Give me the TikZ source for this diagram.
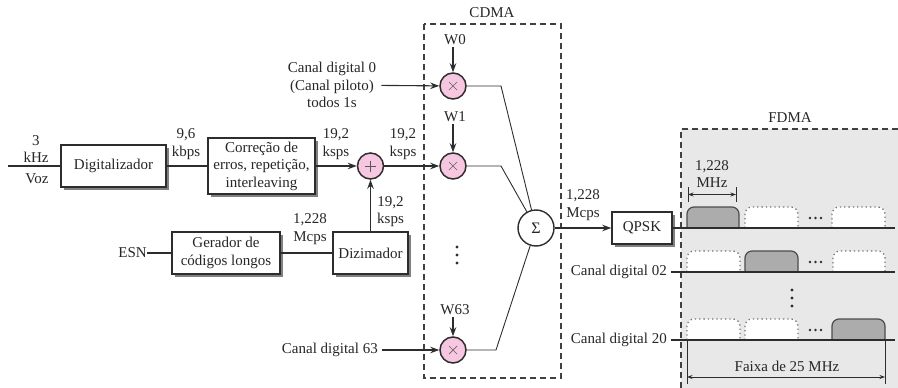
\documentclass[tikz,border=0pt]{standalone}
\usepackage{fontspec}
\setmainfont{Liberation Serif}
\usetikzlibrary{arrows.meta,shadows,calc}
\definecolor{pinkc}{RGB}{247,198,224}
\definecolor{linec}{RGB}{45,45,45}
\definecolor{fdmabg}{RGB}{232,232,232}
\definecolor{pulseg}{RGB}{172,172,172}
\newcommand{\mypulse}[4]{\path[#4, rounded corners=7pt] (#1,#3) -- (#1,#3-21) -- (#2,#3-21) -- (#2,#3);}
\begin{document}
\begin{tikzpicture}[x=1pt,y=-1pt,
  font=\fontsize{15}{17.5}\selectfont, text=black!85,
  blk/.style={draw=linec, line width=1.6pt, fill=white, align=center, inner sep=2pt,
    drop shadow={shadow xshift=3pt, shadow yshift=-3pt, fill=black!50, opacity=1}},
  mul/.style={circle, draw=linec, line width=1.5pt, fill=pinkc, minimum size=26pt, inner sep=0pt},
  sig/.style={circle, draw=linec, line width=1.4pt, fill=white, minimum size=36pt, inner sep=0pt},
  ln/.style={draw=linec, line width=1.1pt},
  arr/.style={ln, -{Stealth[length=9pt,width=6.5pt]}},
  dim/.style={draw=linec, line width=0.8pt, {Stealth[length=5.5pt,width=4pt]}-{Stealth[length=5.5pt,width=4pt]}},
  lbl/.style={align=center, inner sep=0pt},
  dashbox/.style={draw=black!75, line width=1.1pt, dash pattern=on 6pt off 4pt},
  gpulse/.style={fill=pulseg, draw=black!70, line width=1.2pt},
  dpulse/.style={fill=white, draw=black!55, line width=1.3pt, dash pattern=on 1.3pt off 3pt},
  dotc/.style={fill=linec}
]
\useasboundingbox (0,0) rectangle (898,388);

% FDMA region
\fill[fdmabg] (681,129) rectangle (898,388);
\path[dashbox] (681,388) -- (681,129) -- (898,129);
\node[lbl] (fdma) at (790,118) {FDMA};

% CDMA region
\path[dashbox] (424,24) rectangle (561,378);
\node[lbl] (cdma) at (492,13) {CDMA};

% blocks
\node[blk, minimum width=105pt, minimum height=42pt] (dig) at (113.5,166) {Digitalizador};
\node[blk, minimum width=107pt, minimum height=56pt] (cor) at (261.5,166) {Correção de\\erros, repetição,\\interleaving};
\node[blk, minimum width=108pt, minimum height=42pt] (ger) at (226,253) {Gerador de\\códigos longos};
\node[blk, minimum width=75pt, minimum height=42pt] (diz) at (370.5,253) {Dizimador};
\node[blk, minimum width=60pt, minimum height=32pt] (qpsk) at (642,228) {QPSK};

% circles
\node[mul] (plus) at (370.5,166) {};
\draw[linec!80, line width=0.8pt] ($(plus)+(-5.5,0)$) -- ($(plus)+(5.5,0)$) ($(plus)+(0,-5.5)$) -- ($(plus)+(0,5.5)$);
\foreach \n/\yy in {m0/86, m1/166, m63/350}{
  \node[mul] (\n) at (453,\yy) {};
  \draw[linec!75, line width=0.7pt] ($(\n)+(-4,-4)$) -- ($(\n)+(4,4)$) ($(\n)+(-4,4)$) -- ($(\n)+(4,-4)$);
}
\node[sig, font=\fontsize{16}{18}\selectfont] (sig) at (536,228) {Σ};

% input chain
\node[lbl] (khz) at (36,149) {3\\kHz};
\node[lbl] (voz) at (37,179) {Voz};
\coordinate (vin) at (8,166);
\draw[ln] (vin) -- (dig);
\draw[ln] (dig) -- (cor);
\node[lbl] (r96) at (186,144) {9,6\\kbps};
\draw[arr] (cor) -- (plus);
\node[lbl] (r192a) at (336,144) {19,2\\ksps};
\draw[arr] (plus) -- (m1);
\node[lbl] (r192b) at (403,144) {19,2\\ksps};
\draw[arr] (diz) -- (plus);
\node[lbl, anchor=west] (r192c) at (377,211.5) {19,2\\ksps};
\node[lbl, anchor=east] (esn) at (147,253) {ESN};
\draw[ln] (esn) -- (ger);
\draw[ln] (ger) -- (diz);
\node[lbl] (r1228a) at (310,229) {1,228\\Mcps};

% Walsh codes
\node[lbl] (w0) at (455,40) {W0};
\node[lbl] (w1) at (455,117) {W1};
\node[lbl] (w63) at (455,310) {W63};
\draw[arr, shorten <=2pt] (m0 |- w0.south) -- (m0);
\draw[arr, shorten <=2pt] (m1 |- w1.south) -- (m1);
\draw[arr, shorten <=2pt] (m63 |- w63.south) -- (m63);

\node[lbl] (c0) at (332,85) {Canal digital 0\\(Canal piloto)\\todos 1s};
\draw[arr, shorten <=5pt] (c0) -- (m0);
\node[lbl, anchor=east] (c63) at (378,350) {Canal digital 63};
\draw[arr, shorten <=4pt] (c63) -- (m63);

% summation
\coordinate (b0) at (501,86);
\coordinate (b1) at (501,166);
\coordinate (b63) at (496,350);
\draw[ln, line width=0.9pt] (m0) -- (b0) -- (sig);
\draw[ln, line width=0.9pt] (m1) -- (b1) -- (sig);
\draw[ln, line width=0.9pt] (m63) -- (b63) -- (sig);
\foreach \yy in {247,255,263}{\fill[dotc] (457,\yy) circle (1.7pt);}

\draw[arr] (sig) -- (qpsk);
\node[lbl] (r1228b) at (583,205) {1,228\\Mcps};

% FDMA rows
\mypulse{687}{739}{228}{gpulse}
\mypulse{745}{798}{228}{dpulse}
\mypulse{832}{885}{228}{dpulse}
\mypulse{687}{740}{272}{dpulse}
\mypulse{745}{798}{272}{gpulse}
\mypulse{833}{885}{272}{dpulse}
\mypulse{687}{740}{340}{dpulse}
\mypulse{745}{798}{340}{dpulse}
\mypulse{832}{885}{340}{gpulse}
\foreach \yy in {218,262,330}{\foreach \xx in {810,815.5,821}{\fill[dotc] (\xx,\yy) circle (1.4pt);}}
\foreach \yy in {290,298,306}{\fill[dotc] (792,\yy) circle (1.7pt);}

\coordinate (r1e) at (895,228);
\draw[ln, line width=1.3pt] (qpsk) -- (r1e);
\node[lbl, anchor=east] (c02) at (667,272) {Canal digital 02};
\coordinate (r2e) at (895,272);
\draw[ln, line width=1.3pt, shorten <=4pt] (c02) -- (r2e);
\node[lbl, anchor=east] (c20) at (667,340) {Canal digital 20};
\coordinate (r3e) at (895,340);
\draw[ln, line width=1.3pt, shorten <=4pt] (c20) -- (r3e);

% dimension 1,228 MHz
\coordinate (d1a) at (688,187); \coordinate (d1b) at (688,202);
\coordinate (d2a) at (736,187); \coordinate (d2b) at (736,202);
\draw[linec, line width=0.9pt] (d1a) -- (d1b) (d2a) -- (d2b);
\coordinate (d1m) at (688,194.5); \coordinate (d2m) at (736,194.5);
\draw[dim] (d1m) -- (d2m);
\node[lbl] (mhz) at (712,174) {1,228\\MHz};

% Faixa de 25 MHz
\coordinate (f1a) at (687,340); \coordinate (f1b) at (687,384);
\coordinate (f2a) at (885,340); \coordinate (f2b) at (885,384);
\draw[linec, line width=0.9pt] (f1a) -- (f1b) (f2a) -- (f2b);
\coordinate (f1m) at (687,377); \coordinate (f2m) at (885,377);
\draw[dim] (f1m) -- (f2m);
\node[lbl] (faixa) at (787,366) {Faixa de 25 MHz};
\end{tikzpicture}
\end{document}
